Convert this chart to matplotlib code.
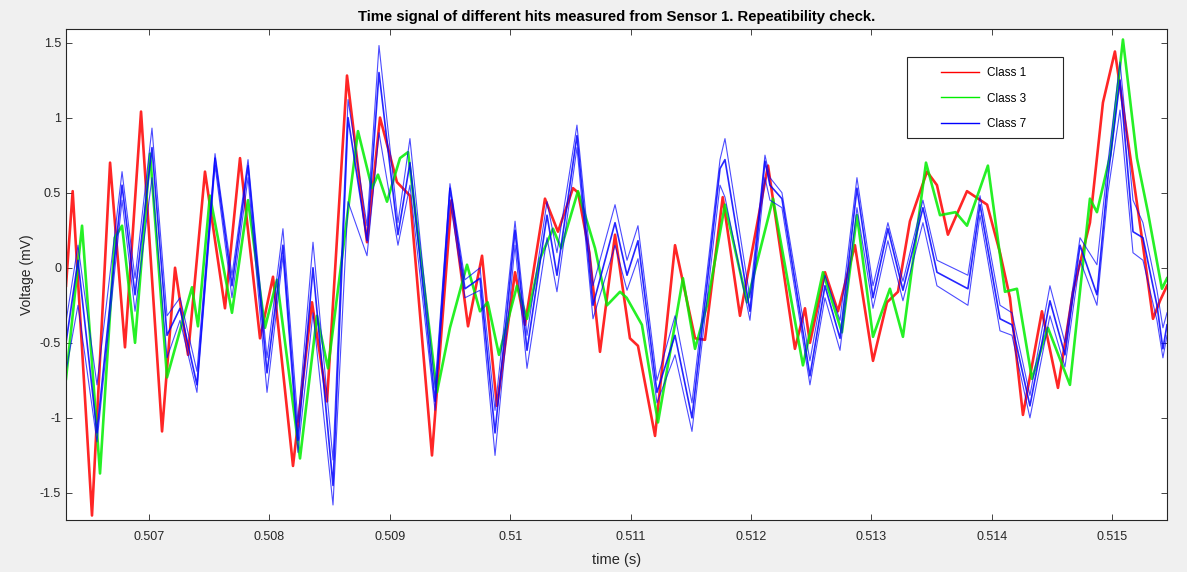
import numpy as np
import matplotlib
matplotlib.use('Agg')
import matplotlib.pyplot as plt
from matplotlib.patches import Rectangle

# time in ms, voltage in mV
t_red = [506.3105, 506.3659, 506.5264, 506.6765, 506.8004, 506.9337, 507.1083, 507.2162, 507.3241,
         507.4649, 507.6310, 507.7559, 507.9220, 508.0299, 508.1960, 508.3537, 508.4785, 508.6446,
         508.8108, 508.9187, 509.0595, 509.1674, 509.3504, 509.5128, 509.6498, 509.7662, 509.8901,
         510.0403, 510.1228, 510.2890, 510.3969, 510.5217, 510.5640, 510.6578, 510.7460, 510.8709,
         510.9947, 511.0614, 511.2031, 511.3692, 511.5353, 511.6179, 511.7653, 511.9089, 512.1416,
         512.3650, 512.4486, 512.4898, 512.6147, 512.7226, 512.8634, 513.0136, 513.1299, 513.2210,
         513.3205, 513.4622, 513.5448, 513.6358, 513.7944, 513.9615, 514.0685, 514.1511, 514.2590,
         514.4167, 514.5499, 514.6748, 514.8155, 514.9235, 515.0230, 515.1647, 515.2557, 515.3393,
         515.3974, 515.4556]
v_red = [-0.12, 0.51, -1.65, 0.70, -0.53, 1.04, -1.09, 0.00, -0.58,
         0.64, -0.27, 0.73, -0.47, -0.06, -1.32, -0.23, -0.89, 1.28,
         0.17, 1.00, 0.57, 0.48, -1.25, 0.45, -0.39, 0.08, -0.92,
         -0.03, -0.38, 0.46, 0.24, 0.53, 0.50, 0.10, -0.56, 0.22,
         -0.47, -0.52, -1.12, 0.15, -0.47, -0.48, 0.47, -0.32, 0.68,
         -0.54, -0.27, -0.50, -0.03, -0.29, 0.15, -0.62, -0.23, -0.16,
         0.31, 0.64, 0.55, 0.22, 0.51, 0.42, 0.10, -0.20, -0.98,
         -0.29, -0.80, -0.16, 0.30, 1.10, 1.44, 0.66, 0.15, -0.34,
         -0.22, -0.12]

t_green = [506.3105, 506.4438, 506.5930, 506.7159, 506.7760, 506.8839, 507.0088, 507.1496, 507.3570,
           507.4067, 507.5062, 507.6892, 507.8225, 507.9633, 508.0628, 508.2542, 508.3950, 508.4870,
           508.7357, 508.8521, 508.9018, 508.9769, 509.0848, 509.1515, 509.3917, 509.4997, 509.6414,
           509.7493, 509.8131, 509.9070, 510.0562, 510.1397, 510.2477, 510.3556, 510.4232, 510.5630,
           510.7047, 510.8042, 510.9122, 510.9675, 511.0942, 511.2275, 511.4349, 511.5353, 511.6348,
           511.7841, 511.9671, 512.1829, 512.4317, 512.5978, 512.7555, 512.8803, 513.0136, 513.1543,
           513.2623, 513.4537, 513.5701, 513.6987, 513.7944, 513.9680, 514.1098, 514.2093, 514.3341,
           514.4664, 514.6494, 514.8155, 514.8737, 514.9845, 515.0896, 515.2060, 515.2970, 515.4134,
           515.4556]
v_green = [-0.74, 0.28, -1.37, 0.20, 0.28, -0.50, 0.76, -0.73, -0.13,
           -0.39, 0.48, -0.30, 0.45, -0.40, -0.08, -1.27, -0.32, -0.67,
           0.91, 0.53, 0.62, 0.44, 0.73, 0.77, -0.83, -0.40, 0.02,
           -0.29, -0.23, -0.58, -0.12, -0.34, 0.06, 0.26, 0.13, 0.51,
           0.13, -0.25, -0.16, -0.20, -0.38, -1.03, -0.07, -0.54, -0.25,
           0.42, -0.23, 0.46, -0.65, -0.03, -0.43, 0.35, -0.46, -0.14,
           -0.46, 0.70, 0.35, 0.37, 0.28, 0.68, -0.16, -0.14, -0.74,
           -0.40, -0.78, 0.46, 0.37, 0.75, 1.52, 0.73, 0.37, -0.14,
           -0.07]

t_blue = [506.3105, 506.4100, 506.5677, 506.7760, 506.8839, 507.0247, 507.1496, 507.2575, 507.3983,
          507.5484, 507.6892, 507.8225, 507.9802, 508.1125, 508.2373, 508.3621, 508.5283, 508.6531,
          508.8108, 508.9103, 509.0679, 509.1674, 509.3758, 509.4997, 509.6245, 509.7493, 509.8741,
          510.0403, 510.1397, 510.3059, 510.3885, 510.5546, 510.6878, 510.8709, 510.9704, 511.0614,
          511.2191, 511.3692, 511.5100, 511.7428, 511.7841, 511.9915, 512.1163, 512.1576, 512.2571,
          512.4898, 512.6147, 512.7395, 512.8803, 513.0136, 513.1374, 513.2623, 513.4284, 513.5448,
          513.8019, 513.9023, 514.0685, 514.1679, 514.3172, 514.4833, 514.6081, 514.7330, 514.8737,
          514.9648, 515.0652, 515.1731, 515.2557, 515.3721, 515.4218, 515.4556]
v_blue_mid = [-0.50, 0.05, -1.10, 0.55, -0.18, 0.80, -0.45, -0.27, -0.78,
              0.73, -0.12, 0.68, -0.70, 0.15, -1.15, 0.00, -1.45, 1.00,
              0.18, 1.30, 0.22, 0.70, -0.89, 0.53, -0.14, -0.07, -1.10,
              0.25, -0.55, 0.35, -0.05, 0.88, -0.25, 0.30, -0.05, 0.18,
              -0.83, -0.45, -1.00, 0.66, 0.72, -0.29, 0.71, 0.55, 0.46,
              -0.72, -0.12, -0.47, 0.53, -0.20, 0.26, -0.15, 0.40, -0.03,
              -0.14, 0.42, -0.34, -0.38, -0.92, -0.22, -0.58, 0.15, -0.18,
              0.60, 1.25, 0.24, 0.20, -0.25, -0.54, -0.38]
v_blue_hi = [-0.36, 0.15, -0.78, 0.64, -0.07, 0.93, -0.32, -0.20, -0.69,
             0.76, -0.05, 0.72, -0.60, 0.26, -1.03, 0.17, -1.28, 1.12,
             0.28, 1.48, 0.30, 0.86, -0.80, 0.56, -0.08, 0.00, -0.95,
             0.31, -0.45, 0.44, 0.10, 0.95, -0.12, 0.42, 0.05, 0.28,
             -0.75, -0.32, -0.90, 0.72, 0.86, -0.20, 0.75, 0.60, 0.50,
             -0.62, -0.05, -0.35, 0.60, -0.12, 0.30, -0.09, 0.45, 0.05,
             -0.05, 0.48, -0.25, -0.30, -0.85, -0.12, -0.50, 0.20, 0.02,
             0.70, 1.37, 0.45, 0.30, -0.15, -0.40, -0.30]
v_blue_lo = [-0.69, -0.25, -1.16, 0.45, -0.29, 0.60, -0.60, -0.35, -0.83,
             0.68, -0.20, 0.60, -0.83, 0.08, -1.23, -0.30, -1.58, 0.44,
             0.08, 0.90, 0.15, 0.55, -0.95, 0.45, -0.20, -0.15, -1.25,
             0.15, -0.67, 0.20, -0.16, 0.80, -0.34, 0.15, -0.15, 0.06,
             -0.90, -0.58, -1.09, 0.55, 0.47, -0.35, 0.60, 0.45, 0.40,
             -0.78, -0.20, -0.55, 0.40, -0.27, 0.18, -0.22, 0.30, -0.12,
             -0.25, 0.35, -0.42, -0.45, -1.00, -0.32, -0.66, 0.05, -0.25,
             0.50, 1.05, 0.10, 0.05, -0.35, -0.60, -0.45]

xticks = [0.507, 0.508, 0.509, 0.510, 0.511, 0.512, 0.513, 0.514, 0.515]
xticklabels = ['0.507', '0.508', '0.509', '0.51', '0.511', '0.512', '0.513', '0.514', '0.515']
yticks = [-1.5, -1, -0.5, 0, 0.5, 1, 1.5]
yticklabels = ['-1.5', '-1', '-0.5', '0', '0.5', '1', '1.5']

plt.rcParams['font.family'] = ['Liberation Sans', 'DejaVu Sans']

fig = plt.figure(figsize=(11.87, 5.72), dpi=100, facecolor='#f0f0f0')
ax = fig.add_axes([66/1187, 1-520/572, (1167-66)/1187, (520-29)/572])

tr = np.array(t_red) / 1000
tg = np.array(t_green) / 1000
tb = np.array(t_blue) / 1000

ax.plot(tr, v_red, color='red', lw=1.9, alpha=0.85, label='Class 1')
ax.plot(tg, v_green, color='#00ee00', lw=1.9, alpha=0.85, label='Class 3')
ax.plot(tb, v_blue_mid, color='blue', lw=1.2, alpha=0.85, label='Class 7')
ax.plot(tb, v_blue_hi, color='blue', lw=0.8, alpha=0.7)
ax.plot(tb, v_blue_lo, color='blue', lw=0.8, alpha=0.7)

ax.set_xlim(0.5063105, 0.5154556)
ax.set_ylim(-1.68, 1.59)
ax.set_xticks(xticks)
ax.set_xticklabels(xticklabels)
ax.set_yticks(yticks)
ax.set_yticklabels(yticklabels)
ax.tick_params(direction='in', top=True, right=True, length=4, labelsize=9,
               colors='#262626', width=0.6)
ax.tick_params(axis='x', pad=8)
for s in ax.spines.values():
    s.set_color('#262626')
    s.set_linewidth(0.8)

ax.set_title('Time signal of different hits measured from Sensor 1. Repeatibility check.',
             fontsize=10.7, fontweight='bold', pad=6)
ax.set_xlabel('time (s)', fontsize=10.5, color='#262626', labelpad=7)
ax.set_ylabel('Voltage (mV)', fontsize=10, color='#262626')

# legend box drawn separately so the padding matches
ax.add_patch(Rectangle((841/1101, 382/491), 156/1101, 81/491, transform=ax.transAxes,
                       facecolor='white', edgecolor='#262626', lw=0.8, zorder=5))
leg = ax.legend(loc='upper left', bbox_to_anchor=((941-66)/1101, (520-67)/491),
                fontsize=8.5, frameon=False, handlelength=3.2, handletextpad=0.7,
                borderpad=0, labelspacing=1.15, borderaxespad=0)
leg.set_zorder(6)
for line in leg.get_lines():
    line.set_linewidth(1.0)
    line.set_alpha(1)

fig.savefig('out.png', dpi=100, facecolor=fig.get_facecolor())
